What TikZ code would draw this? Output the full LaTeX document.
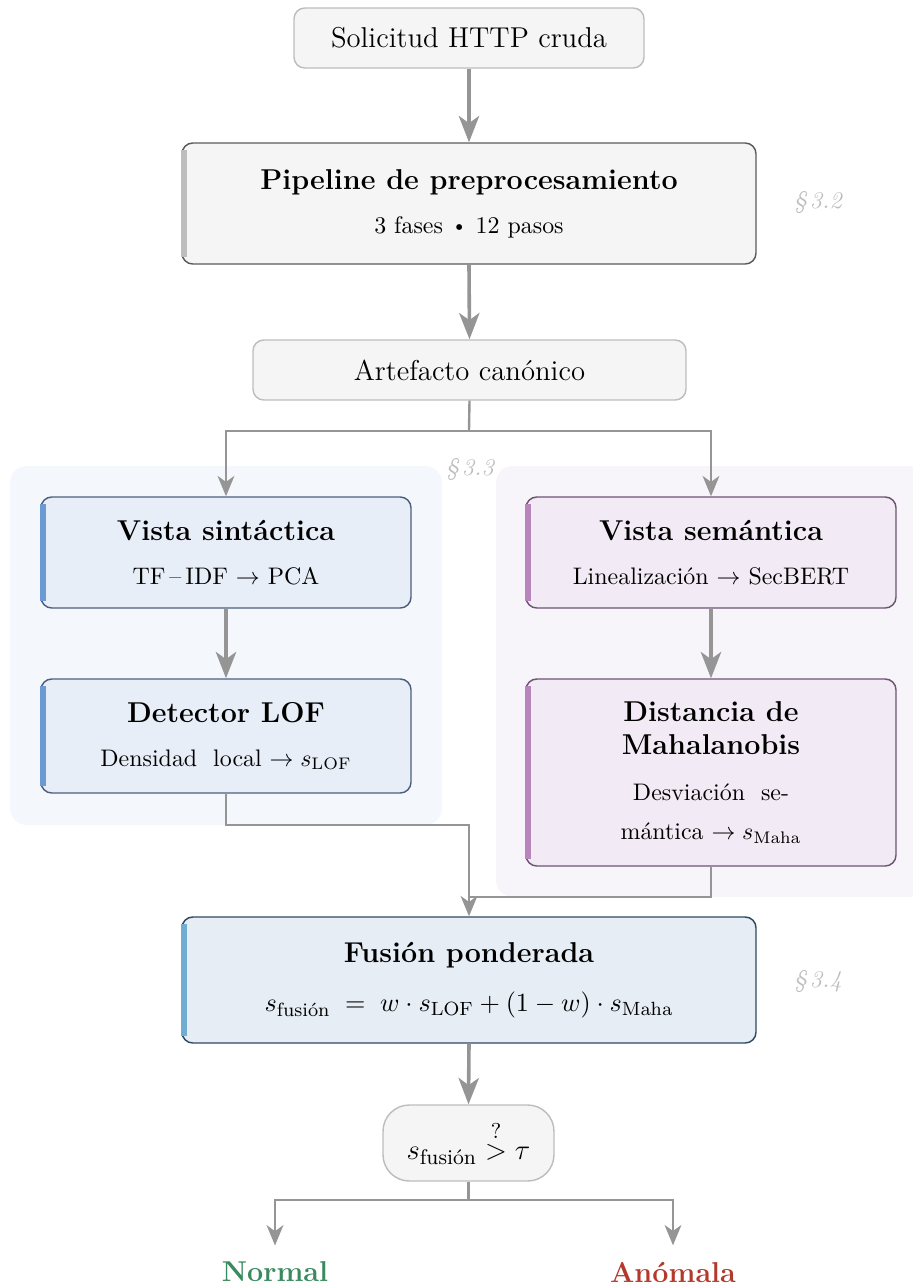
\documentclass[tikz,border=0pt]{standalone}
\usepackage{amsmath}
\usetikzlibrary{arrows.meta,positioning,calc}
\definecolor{grayfill}{HTML}{F5F5F5}
\definecolor{grayline}{HTML}{BDBDBD}
\definecolor{darkline}{HTML}{5A5A5A}
\definecolor{arrowgray}{HTML}{959595}
\definecolor{bluefill}{HTML}{E8EEF7}
\definecolor{blueline}{HTML}{4E5F7E}
\definecolor{bluebar}{HTML}{6C9BD2}
\definecolor{purpfill}{HTML}{F2EAF4}
\definecolor{purpline}{HTML}{6D5473}
\definecolor{purpbar}{HTML}{B784BB}
\definecolor{fusfill}{HTML}{E6EDF5}
\definecolor{fusline}{HTML}{2D4A63}
\definecolor{fusbar}{HTML}{6FAED0}
\definecolor{groupL}{HTML}{F4F7FC}
\definecolor{groupR}{HTML}{F7F5F9}
\definecolor{okgreen}{HTML}{3A8A5F}
\definecolor{badred}{HTML}{B5392A}
\newcommand\pxu{0.418pt}
\tikzset{
  box/.style={rounded corners=4.5pt, line width=0.6pt, align=center, inner sep=0pt},
  graybox/.style={box, draw=grayline, fill=grayfill},
  pipebox/.style={box, draw=darkline, fill=grayfill},
  synbox/.style={box, draw=blueline, fill=bluefill},
  sembox/.style={box, draw=purpline, fill=purpfill},
  fusbox/.style={box, draw=fusline, fill=fusfill},
  bigarrow/.style={draw=arrowgray, line width=1.5pt, -{Stealth[length=11pt,width=8.5pt,inset=3pt]}},
  smallarrow/.style={draw=arrowgray, line width=1pt, -{Stealth[length=8.5pt,width=7pt,inset=2.5pt]}},
  plainline/.style={draw=arrowgray, line width=1pt},
  seclabel/.style={text=grayline, font=\itshape},
}
\begin{document}
\begin{tikzpicture}[x=\pxu,y=-\pxu]
\useasboundingbox (0,0) rectangle (913,1287);
% group backgrounds
\fill[groupL, rounded corners=7pt] (10,466) rectangle (442,825);
\fill[groupR, rounded corners=7pt] (496,466) rectangle (925,897);
\node[seclabel] (sec33) at (470,470) {\S\,3.3};

% nodes
\node[graybox, minimum width=350*\pxu, minimum height=60*\pxu] (req) at (469,38) {\large Solicitud HTTP cruda};
\node[pipebox, minimum width=574*\pxu, minimum height=121*\pxu] (pipe) at (469,203.5)
  {{\large\bfseries Pipeline de preprocesamiento}\\[6.5pt] 3 fases \,\raisebox{1pt}{${\scriptscriptstyle\bullet}$}\, 12 pasos};
\node[seclabel] (sec32) at (818,203) {\S\,3.2};
\node[graybox, minimum width=433*\pxu, minimum height=60*\pxu] (art) at (469.5,370) {\large Artefacto canónico};

\node[synbox, minimum width=370*\pxu, minimum height=111*\pxu] (syn) at (226,552.5)
  {{\large\bfseries Vista sintáctica}\\[6.3pt] TF\,--\,IDF $\rightarrow$ PCA};
\node[synbox, minimum width=370*\pxu, minimum height=114*\pxu] (lof) at (226,736)
  {{\large\bfseries Detector LOF}\\[6.5pt] Densidad\ \ local $\rightarrow s_{\mathrm{LOF}}$};
\node[sembox, minimum width=370*\pxu, minimum height=111*\pxu] (sem) at (711,552.5)
  {{\large\bfseries Vista semántica}\\[6.3pt] Linealización $\rightarrow$ SecBERT};
\node[sembox, minimum width=370*\pxu, minimum height=187*\pxu] (maha) at (711,772.5)
  {{\large\bfseries Distancia de}\\[2pt]{\large\bfseries Mahalanobis}\\[7pt] Desviación\ \ se-\\[4.5pt] mántica $\rightarrow s_{\mathrm{Maha}}$};

\node[fusbox, minimum width=574*\pxu, minimum height=126*\pxu] (fus) at (469,980)
  {{\large\bfseries Fusión ponderada}\\[8.7pt] {\fontsize{10.95}{13}\selectfont $s_{\text{fusión}}\;=\;w\cdot s_{\mathrm{LOF}}+(1-w)\cdot s_{\mathrm{Maha}}$}};
\node[seclabel] (sec34) at (818,982) {\S\,3.4};

\node[graybox, rounded corners=11pt, minimum width=171*\pxu, minimum height=76*\pxu] (dec) at (468.5,1143)
  {\fontsize{12.6}{15}\selectfont $s_{\text{fusión}}\overset{?}{>}\tau$};

\node[font=\large\bfseries, text=okgreen] (normal) at (275,1272) {Normal};
\node[font=\large\bfseries, text=badred] (anom) at (673,1272) {Anómala};

% accent bars
\fill[grayline] ($(pipe.north west)+(0,8)$) rectangle ($(pipe.south west)+(6,-8)$);
\fill[bluebar] ($(syn.north west)+(0,8)$) rectangle ($(syn.south west)+(6,-8)$);
\fill[bluebar] ($(lof.north west)+(0,8)$) rectangle ($(lof.south west)+(6,-8)$);
\fill[purpbar] ($(sem.north west)+(0,8)$) rectangle ($(sem.south west)+(6,-8)$);
\fill[purpbar] ($(maha.north west)+(0,8)$) rectangle ($(maha.south west)+(6,-8)$);
\fill[fusbar] ($(fus.north west)+(0,8)$) rectangle ($(fus.south west)+(6,-8)$);

% connectors
\draw[bigarrow] (req.south) -- (pipe.north);
\draw[bigarrow] (pipe.south) -- (art.north);
\coordinate (split) at (469,431);
\draw[plainline] (art.south) -- (split);
\draw[smallarrow] (split) -| (syn.north);
\draw[smallarrow] (split) -| (sem.north);
\draw[bigarrow] (syn.south) -- (lof.north);
\draw[bigarrow] (sem.south) -- (maha.north);
\coordinate (joinL) at (469,825);
\coordinate (joinR) at (469,897);
\draw[smallarrow] (lof.south) |- (joinL) -- (fus.north);
\draw[plainline] (maha.south) |- (joinR);
\draw[bigarrow] (fus.south) -- (dec.north);
\coordinate (split2) at (468.5,1200);
\draw[plainline] (dec.south) -- (split2);
\draw[smallarrow] (split2) -| ($(normal.north)+(0,-8)$);
\draw[smallarrow] (split2) -| ($(anom.north)+(0,-8)$);
\end{tikzpicture}
\end{document}
